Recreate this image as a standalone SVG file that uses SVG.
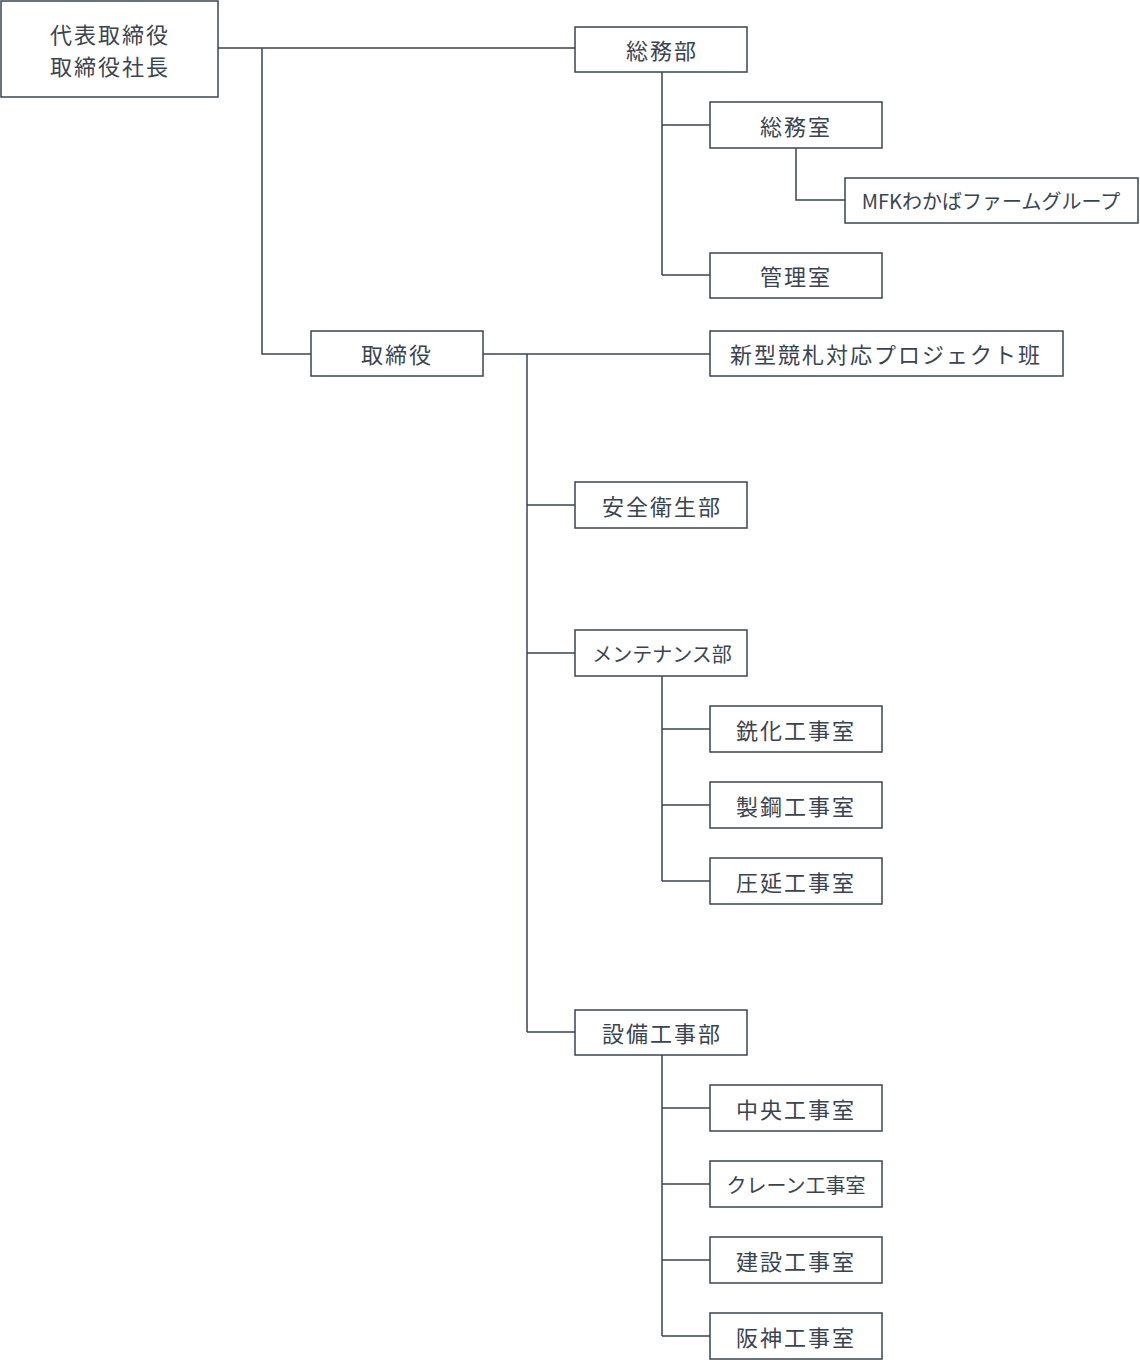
<svg xmlns="http://www.w3.org/2000/svg" width="1140" height="1360" viewBox="0 0 1140 1360">
<style>
rect{fill:#fff;stroke:#3a4450;stroke-width:1.5}
text{font-family:"Noto Sans CJK JP","Noto Sans",sans-serif;font-size:22px;fill:#3a4450;text-anchor:middle;dominant-baseline:central;letter-spacing:2px}
.s{font-size:20px;letter-spacing:0}
#c path{fill:none;stroke:#3a4450;stroke-width:1.5}
</style>
<rect width="1140" height="1360" style="fill:#fff;stroke:none"/>
<g id="c">
<path d="M218 48H575M262 48V354H311M483 354H710M527 354V1032M527 505H575M527 653H575M527 1032H575"/>
<path d="M662 72V275M662 125H710M662 275H710M796 148V200H845"/>
<path d="M662 676V881M662 729H710M662 805H710M662 881H710"/>
<path d="M662 1055V1336M662 1108H710M662 1184H710M662 1260H710M662 1336H710"/>
</g>
<g id="n0"><rect x="1" y="1" width="217" height="96"/><text x="110" y="33">代表取締役</text><text x="110" y="65">取締役社長</text></g>
<g id="n1"><rect x="575" y="27" width="172" height="45"/><text x="662" y="49">総務部</text></g>
<g id="n2"><rect x="710" y="102" width="172" height="46"/><text x="796" y="125">総務室</text></g>
<g id="n3"><rect x="845" y="178" width="293" height="45"/><text x="991" y="200" class="s">MFKわかばファームグループ</text></g>
<g id="n4"><rect x="710" y="253" width="172" height="45"/><text x="796" y="275">管理室</text></g>
<g id="n5"><rect x="311" y="331" width="172" height="45"/><text x="397" y="353">取締役</text></g>
<g id="n6"><rect x="710" y="331" width="353" height="45"/><text x="886" y="353">新型競札対応プロジェクト班</text></g>
<g id="n7"><rect x="575" y="482" width="172" height="46"/><text x="662" y="505">安全衛生部</text></g>
<g id="n8"><rect x="575" y="630" width="172" height="46"/><text x="662" y="653" class="s">メンテナンス部</text></g>
<g id="n9"><rect x="710" y="706" width="172" height="46"/><text x="796" y="729">銑化工事室</text></g>
<g id="n10"><rect x="710" y="782" width="172" height="46"/><text x="796" y="805">製鋼工事室</text></g>
<g id="n11"><rect x="710" y="858" width="172" height="46"/><text x="796" y="881">圧延工事室</text></g>
<g id="n12"><rect x="575" y="1010" width="172" height="45"/><text x="662" y="1032">設備工事部</text></g>
<g id="n13"><rect x="710" y="1085" width="172" height="46"/><text x="796" y="1108">中央工事室</text></g>
<g id="n14"><rect x="710" y="1161" width="172" height="46"/><text x="796" y="1184" class="s">クレーン工事室</text></g>
<g id="n15"><rect x="710" y="1237" width="172" height="46"/><text x="796" y="1260">建設工事室</text></g>
<g id="n16"><rect x="710" y="1313" width="172" height="46"/><text x="796" y="1336">阪神工事室</text></g>
</svg>
